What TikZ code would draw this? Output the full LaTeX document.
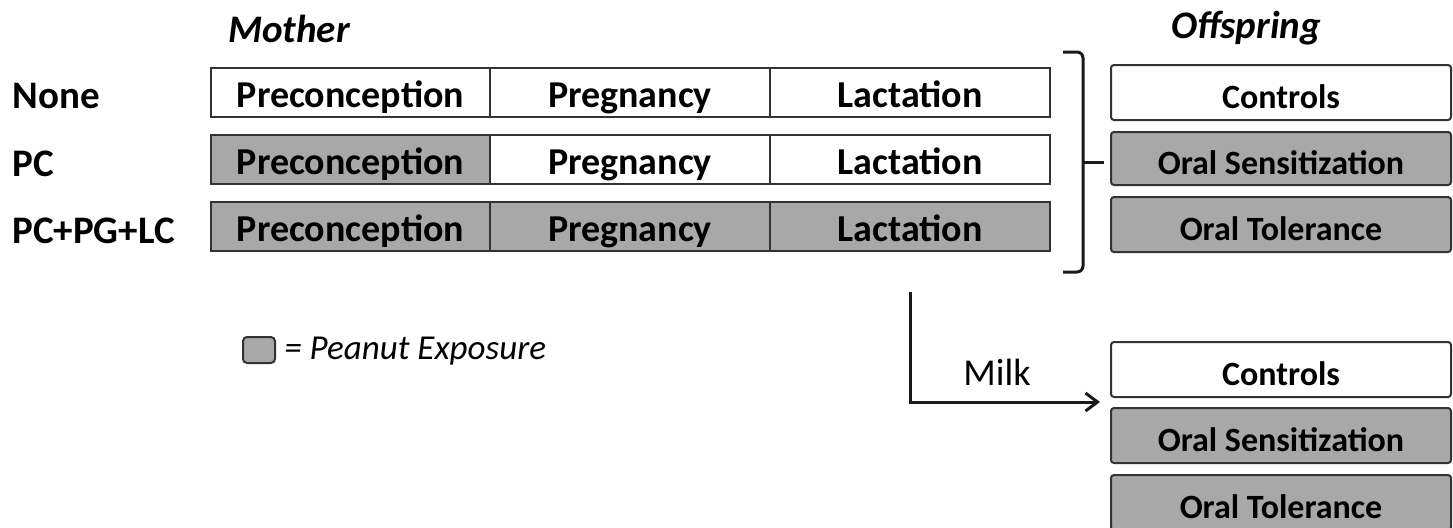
\documentclass[tikz,border=0pt]{standalone}
\usepackage{fontspec}
\setmainfont{Carlito}
\usetikzlibrary{arrows.meta}
\definecolor{peanut}{HTML}{A8A8A8}
\definecolor{edge}{HTML}{333333}
\begin{document}
\begin{tikzpicture}[x=0.5pt,y=-0.5pt,
  cellbox/.style={draw=edge, line width=1pt, inner sep=0pt, fill=white,
    text height=18pt, text depth=2.5pt,
    font=\fontsize{19}{22}\selectfont\bfseries},
  expbox/.style={cellbox, fill=peanut},
  offbox/.style={draw=edge, line width=1pt, inner sep=0pt, fill=white, rounded corners=1.5pt,
    text height=18pt, text depth=2.5pt,
    minimum width=170pt, font=\fontsize{17}{20}\selectfont\bfseries},
  offexp/.style={offbox, fill=peanut},
  rowlabel/.style={anchor=base west, inner sep=0pt, font=\fontsize{19.5}{22}\selectfont\bfseries},
  header/.style={anchor=base, inner sep=0pt, font=\fontsize{19.5}{22}\selectfont\bfseries\itshape},
  connector/.style={draw=black!90, line width=1.5pt}
]
\useasboundingbox (0,0) rectangle (1453,527);
\clip (0,0) rectangle (1453,527);

% headers
\node[header] (mother) at (289,42) {Mother};
\node[header] (offspring) at (1246,38) {Offspring};

% row labels
\node[rowlabel] (none) at (12,108) {None};
\node[rowlabel] (pc) at (12,176) {PC};
\node[rowlabel] (pcpglc) at (12,243) {PC+PG+LC};

% mother rows
\node[cellbox, minimum width=139.5pt, minimum height=24.5pt] (pre1) at (350.5,92) {Preconception};
\node[cellbox, minimum width=140pt, minimum height=24.5pt] (preg1) at (630,92) {Pregnancy};
\node[cellbox, minimum width=140pt, minimum height=24.5pt] (lac1) at (910,92) {Lactation};

\node[expbox, minimum width=139.5pt, minimum height=24.5pt] (pre2) at (350.5,159) {Preconception};
\node[cellbox, minimum width=140pt, minimum height=24.5pt] (preg2) at (630,159) {Pregnancy};
\node[cellbox, minimum width=140pt, minimum height=24.5pt] (lac2) at (910,159) {Lactation};

\node[expbox, minimum width=139.5pt, minimum height=24.5pt] (pre3) at (350.5,226) {Preconception};
\node[expbox, minimum width=140pt, minimum height=24.5pt] (preg3) at (630,226) {Pregnancy};
\node[expbox, minimum width=140pt, minimum height=24.5pt] (lac3) at (910,226) {Lactation};

% offspring (upper)
\node[offbox, minimum height=27.5pt] (ctrlA) at (1281,92.5) {Controls};
\node[offexp, minimum height=26.5pt] (sensA) at (1281,158.5) {Oral Sensitization};
\node[offexp, minimum height=27.5pt] (tolA) at (1281,224.5) {Oral Tolerance};

% offspring (lower)
\node[offbox, minimum height=27.5pt] (ctrlB) at (1281,369.5) {Controls};
\node[offexp, minimum height=27.5pt] (sensB) at (1281,435.5) {Oral Sensitization};
\node[offexp, minimum height=27.5pt] (tolB) at (1281,502.5) {Oral Tolerance};

% bracket
\coordinate (brtop) at (1063,52);
\coordinate (brbot) at (1063,272);
\coordinate (brmid) at (1083,162);
\coordinate (brtip) at (1104,162);
\draw[connector, rounded corners=3pt] (brtop) -- (1083,52) -- (1083,272) -- (brbot);
\draw[connector] (brmid) -- (brtip);

% milk arrow
\coordinate (milkstart) at (910,292);
\coordinate (milkend) at (1100,402);
\draw[connector, -{Straight Barb[length=6pt,width=9pt,line width=1.5pt]}] (milkstart) |- (milkend);
\node[anchor=base, inner sep=0pt, font=\fontsize{19}{22}\selectfont] (milk) at (997,385) {Milk};

% legend
\node[draw=edge, line width=1pt, fill=peanut, rounded corners=2pt, minimum width=16pt, minimum height=13pt, inner sep=0pt] (legbox) at (259,350) {};
\node[anchor=base west, inner sep=0pt, font=\fontsize{17.5}{22}\selectfont\itshape] (legtext) at (284,359) {= Peanut Exposure};
\end{tikzpicture}
\end{document}
